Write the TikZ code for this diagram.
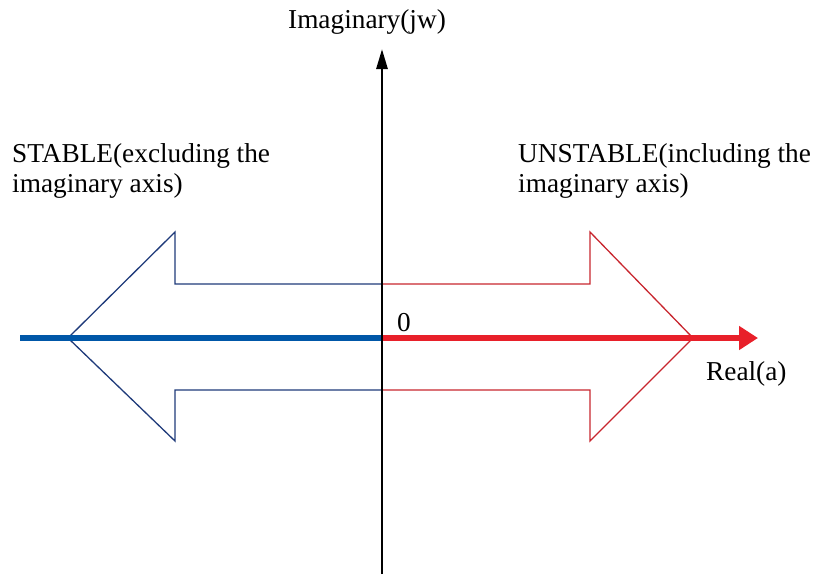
\documentclass[tikz,border=0pt]{standalone}
\usepackage{fontspec}
\setmainfont{Liberation Serif}
\usetikzlibrary{arrows.meta}
\definecolor{axblue}{HTML}{0057A8}
\definecolor{navy}{HTML}{1F3A7A}
\definecolor{axred}{HTML}{E8202A}
\definecolor{outred}{HTML}{C8262E}
\tikzset{
  lbl/.style={inner sep=0pt, font=\fontsize{27.3}{31}\selectfont},
  hollow/.style={line width=1.3pt, line join=miter},
}
\begin{document}
\begin{tikzpicture}[x=1pt,y=-1pt]
\useasboundingbox (0,0) rectangle (815,574);
% hollow arrows
\draw[hollow, outred] (382,284) -- (590,284) -- (590,232) -- (693,338) -- (590,441) -- (590,390) -- (382,390);
\draw[hollow, navy] (382,284) -- (175,284) -- (175,232) -- (68,338) -- (175,441) -- (175,390) -- (382,390) -- cycle;
% axes
\coordinate (o) at (382,338);
\coordinate (left) at (20,338);
\coordinate (right) at (758,338);
\coordinate (bot) at (382,574);
\coordinate (top) at (382,49);
\draw[axblue, line width=6.5pt] (left) -- (o);
\draw[axred, line width=6.5pt, -{Triangle[length=19pt,width=23pt]}] (o) -- (right);
\draw[black, line width=2.8pt, -{Triangle[length=20pt,width=11pt]}] (bot) -- (top);
% labels
\node[lbl, anchor=base] (imag) at (367,28) {Imaginary(jw)};
\node[lbl, anchor=base west] (zero) at (397,331) {0};
\node[lbl, anchor=base west] (real) at (706,380) {Real(a)};
\node[lbl, anchor=base west] (st1) at (12,162) {STABLE(excluding the};
\node[lbl, anchor=base west] (st2) at (12,192) {imaginary axis)};
\node[lbl, anchor=base west] (un1) at (518,162) {UNSTABLE(including the};
\node[lbl, anchor=base west] (un2) at (518,192) {imaginary axis)};
\end{tikzpicture}
\end{document}
